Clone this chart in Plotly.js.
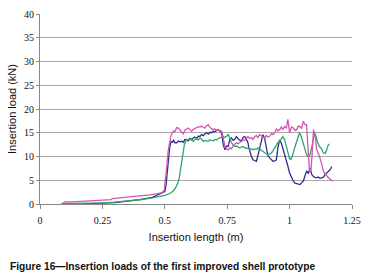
<!DOCTYPE html>
<html>
<head>
<meta charset="utf-8">
<script src="https://cdn.plot.ly/plotly-3.0.1.min.js"></script>
<style>
html,body{margin:0;padding:0;background:#fff;}
#chart{width:370px;height:278px;}
</style>
</head>
<body>
<div id="chart"></div>
<script>
// Reading data: [insertion length (m), insertion load (kN)]
const seriesBlue = [
[0.085,0.0],[0.12,0.1],[0.2,0.1],[0.27,0.2],[0.3,0.3],[0.35,0.6],[0.4,0.9],[0.45,1.4],[0.48,2.2],[0.5,2.6],
[0.505,4],[0.51,7],[0.515,10],[0.52,12.1],[0.525,13.2],[0.53,13.0],[0.535,13.4],[0.54,12.9],[0.548,12.9],[0.555,13.3],
[0.56,13.1],[0.568,13.2],[0.575,13.0],[0.58,13.6],[0.588,13.5],[0.595,13.3],[0.6,13.8],[0.608,13.6],[0.614,13.9],[0.62,14.1],
[0.628,13.8],[0.635,14.3],[0.641,14.2],[0.648,14.6],[0.655,14.4],[0.661,14.8],[0.668,15.0],[0.675,14.7],[0.681,15.1],[0.688,15.0],
[0.694,15.3],[0.7,15.2],[0.708,15.5],[0.714,15.65],[0.72,15.4],[0.725,15.2],[0.729,14.5],[0.734,12.5],[0.741,11.4],[0.747,12.2],
[0.754,12.1],[0.76,13.5],[0.767,13.9],[0.774,13.4],[0.78,13.6],[0.787,14.2],[0.794,13.7],[0.8,13.5],[0.807,13.2],[0.813,14.0],
[0.82,14.2],[0.827,13.6],[0.833,12.9],[0.837,11.8],[0.84,11.1],[0.847,10.0],[0.853,9.3],[0.86,9.2],[0.867,9.0],[0.873,10.2],
[0.88,11.8],[0.887,13.5],[0.893,14.6],[0.9,13.8],[0.907,12.1],[0.913,10.2],[0.92,9.7],[0.927,9.2],[0.933,9.0],[0.94,9.1],
[0.947,9.3],[0.953,11.8],[0.96,13.5],[0.967,12.8],[0.973,11.8],[0.98,10.5],[0.987,9.0],[0.993,8.0],[1.0,6.5],[1.008,5.5],
[1.015,4.8],[1.022,4.4],[1.03,4.3],[1.035,4.2],[1.042,4.1],[1.048,4.5],[1.055,4.8],[1.062,6.0],[1.068,6.9],[1.075,6.5],
[1.082,7.6],[1.089,6.2],[1.095,5.8],[1.102,5.6],[1.108,5.5],[1.115,5.7],[1.122,5.4],[1.128,5.5],[1.135,5.6],[1.142,6.2],
[1.149,6.5],[1.155,6.9],[1.162,7.2],[1.169,7.9]
];
const seriesMagenta = [
[0.09,0.1],[0.1,0.45],[0.13,0.45],[0.16,0.55],[0.2,0.6],[0.24,0.7],[0.27,0.8],[0.285,0.9],[0.29,1.15],[0.32,1.3],
[0.35,1.4],[0.38,1.6],[0.41,1.7],[0.44,1.9],[0.47,2.2],[0.49,2.4],[0.498,3],[0.503,5],[0.508,8],[0.513,11],
[0.518,13],[0.524,14.3],[0.53,15],[0.536,15.4],[0.541,15.3],[0.548,16.1],[0.554,16],[0.561,15.6],[0.568,15.2],[0.574,14.8],
[0.581,15.6],[0.588,15.8],[0.594,16],[0.601,15.6],[0.608,15.3],[0.614,15.7],[0.621,15.9],[0.628,16.1],[0.634,16.3],[0.641,16.2],
[0.648,16.4],[0.654,16.1],[0.661,16],[0.668,16.5],[0.674,16.7],[0.681,16.1],[0.688,15.9],[0.694,15.65],[0.701,15.8],[0.708,15.5],
[0.714,15.65],[0.721,15.4],[0.728,15.3],[0.734,13.9],[0.741,12.1],[0.748,11.6],[0.754,11.4],[0.761,11.8],[0.767,11.6],[0.774,12.3],
[0.78,12.6],[0.787,12.9],[0.794,12.7],[0.8,13.0],[0.807,13.2],[0.813,13.5],[0.82,13.4],[0.827,13.9],[0.833,14.2],[0.84,13.8],
[0.847,14.0],[0.853,13.6],[0.86,14.2],[0.867,14.4],[0.873,14.0],[0.88,14.6],[0.887,14.3],[0.893,14.0],[0.9,13.9],[0.907,14.4],
[0.913,14.1],[0.92,14.2],[0.927,14.8],[0.933,14.6],[0.94,15.0],[0.947,15.8],[0.953,15.4],[0.96,15.65],[0.967,16.2],[0.973,15.7],
[0.98,16.3],[0.987,16.0],[0.993,17.8],[1.0,15.0],[1.008,16.2],[1.015,16.0],[1.022,15.5],[1.028,15.65],[1.035,16.4],[1.042,16.3],
[1.048,15.9],[1.055,17.4],[1.062,16.7],[1.068,16.7],[1.072,13],[1.075,10.4],[1.079,7.5],[1.082,6.55],[1.086,7.5],[1.089,9.5],
[1.092,12.5],[1.096,15.65],[1.1,14.6],[1.104,13.8],[1.108,11.5],[1.115,10.6],[1.12,10],[1.128,8.5],[1.135,7.0],[1.142,6.3],
[1.149,5.85],[1.155,5.6],[1.162,5.2],[1.169,5.0],[1.175,4.8]
];
const seriesGreen = [
[0.09,0.05],[0.15,0.1],[0.2,0.15],[0.25,0.25],[0.3,0.4],[0.35,0.6],[0.4,0.9],[0.45,1.3],[0.48,1.6],[0.5,1.8],
[0.52,2.2],[0.535,2.8],[0.545,3.6],[0.553,4.5],[0.558,5.5],[0.562,7],[0.566,8.8],[0.57,10.5],[0.574,11.5],[0.578,12.4],
[0.581,12.9],[0.588,13.6],[0.594,13.5],[0.601,13.8],[0.608,13.4],[0.614,13.2],[0.621,13.6],[0.628,13.7],[0.634,13.5],[0.641,13.9],
[0.648,13.6],[0.654,13.2],[0.661,13.4],[0.668,13.3],[0.674,13.2],[0.681,13.5],[0.688,13.4],[0.694,13.3],[0.701,13.6],[0.708,13.5],
[0.714,13.8],[0.721,13.9],[0.728,14.1],[0.734,14.2],[0.741,14.0],[0.748,14.4],[0.754,14.6],[0.761,13.8],[0.767,12.9],[0.774,12.4],
[0.78,12.1],[0.787,12.2],[0.794,11.9],[0.8,11.8],[0.807,12.0],[0.813,12.1],[0.82,11.9],[0.827,11.7],[0.833,11.8],[0.84,11.5],
[0.847,11.6],[0.853,11.4],[0.86,11.6],[0.867,11.5],[0.873,11.8],[0.88,11.6],[0.887,11.3],[0.893,11.1],[0.9,10.8],[0.907,10.6],
[0.913,10.4],[0.92,10.5],[0.927,10.75],[0.933,11.2],[0.94,11.8],[0.947,12.4],[0.953,12.9],[0.96,13.2],[0.967,13.8],[0.973,14.2],
[0.98,13.5],[0.987,12.0],[0.993,10.5],[1.0,9.5],[1.005,9.4],[1.012,10.2],[1.02,11.8],[1.028,13.2],[1.035,14.3],[1.04,15.0],
[1.045,14.5],[1.052,13.2],[1.06,11.8],[1.068,10.4],[1.075,9.9],[1.082,10.4],[1.089,12.0],[1.095,13.8],[1.1,15.0],[1.106,14.2],
[1.112,13.0],[1.12,12.1],[1.128,11.6],[1.135,10.8],[1.142,10.6],[1.148,11.3],[1.155,12.5],[1.16,12.6]
];
const xTicks = [0, 0.25, 0.5, 0.75, 1, 1.25];
const xTickLabels = ['0', '0.25', '0.5', '0.75', '1', '1.25'];
const yTicks = [0, 5, 10, 15, 20, 25, 30, 35, 40];
const xTitle = 'Insertion length (m)';
const yTitle = 'Insertion load (kN)';
const caption = 'Figure 16\u2014Insertion loads of the first improved shell prototype';

function mk(data, color) {
  return {
    x: data.map(p => p[0]), y: data.map(p => p[1]),
    type: 'scatter', mode: 'lines',
    line: {color: color, width: 1.3},
    showlegend: false, hoverinfo: 'skip'
  };
}
const traces = [
  mk(seriesBlue, '#2f2d8f'),
  mk(seriesGreen, '#2ea46c'),
  mk(seriesMagenta, '#d455b0')
];
const tickFont = {family: '"Liberation Serif", "Times New Roman", serif', size: 10, color: '#111'};
const layout = {
  width: 370, height: 278,
  margin: {l: 40, r: 18, t: 14, b: 73.5, pad: 0},
  paper_bgcolor: '#fff', plot_bgcolor: '#fff',
  xaxis: {
    range: [0, 1.25], tickvals: xTicks, ticktext: xTickLabels,
    ticks: 'outside', ticklen: 4, tickcolor: '#888', tickwidth: 1,
    ticklabelstandoff: 3,
    showgrid: false, zeroline: false,
    showline: true, linecolor: '#888', linewidth: 1,
    tickfont: tickFont,
    title: {text: xTitle, font: {family: '"Liberation Sans", Arial, sans-serif', size: 11, color: '#111'}, standoff: 8}
  },
  yaxis: {
    range: [0, 40], tickvals: yTicks,
    ticks: 'outside', ticklen: 3, tickcolor: '#888', tickwidth: 1,
    showgrid: true, gridcolor: '#a8a8a8', gridwidth: 1,
    zeroline: false,
    showline: true, linecolor: '#888', linewidth: 1,
    tickfont: tickFont,
    title: {text: yTitle, font: {family: '"Liberation Sans", Arial, sans-serif', size: 11, color: '#111'}, standoff: 5}
  },
  annotations: [{
    text: '<b>' + caption + '</b>',
    xref: 'paper', yref: 'paper', x: -0.103, y: -0.33,
    xanchor: 'left', yanchor: 'middle', showarrow: false,
    font: {family: '"Liberation Sans", Arial, sans-serif', size: 10.2, color: '#111'}
  }]
};
Plotly.newPlot('chart', traces, layout, {staticPlot: true, displayModeBar: false});
</script>
</body>
</html>
